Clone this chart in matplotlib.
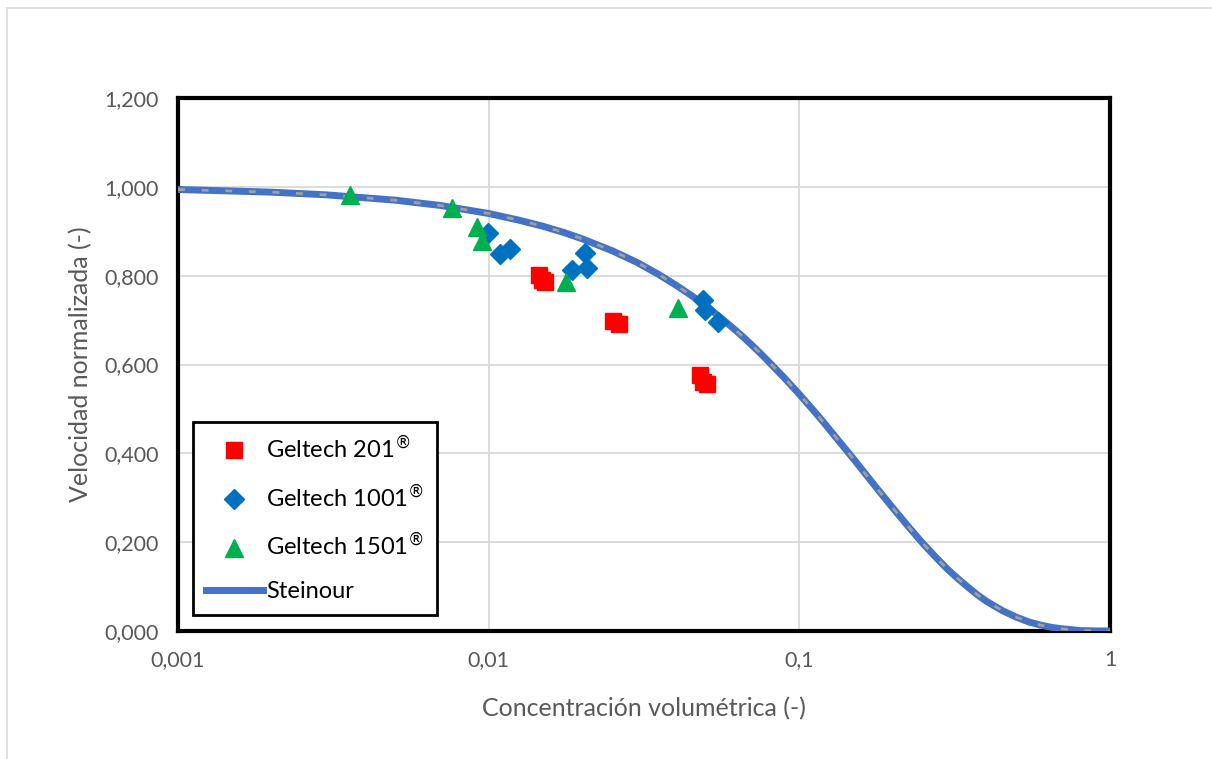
import matplotlib.pyplot as plt
from matplotlib.ticker import FixedLocator, FuncFormatter
from matplotlib.patches import Rectangle
from matplotlib.lines import Line2D

# datos
c_201 = [0.0145, 0.0148, 0.0152, 0.0251, 0.0262, 0.0479, 0.0489, 0.0504]
v_201 = [0.802, 0.790, 0.785, 0.698, 0.691, 0.576, 0.561, 0.556]

c_1001 = [0.00995, 0.01087, 0.01172, 0.01854, 0.0204, 0.0207, 0.0489, 0.0497, 0.0547]
v_1001 = [0.896, 0.849, 0.860, 0.813, 0.851, 0.817, 0.745, 0.723, 0.696]

c_1501 = [0.00358, 0.00762, 0.00917, 0.00951, 0.01773, 0.0407]
v_1501 = [0.982, 0.952, 0.909, 0.878, 0.786, 0.727]

c_st = [0.001, 0.002, 0.003, 0.005, 0.007, 0.01, 0.0125, 0.015, 0.0175, 0.02, 0.025,
        0.03, 0.035, 0.04, 0.045, 0.05, 0.055, 0.06, 0.065, 0.07, 0.075, 0.08, 0.09,
        0.1, 0.11, 0.12, 0.13, 0.15, 0.175, 0.2, 0.225, 0.25, 0.275, 0.3, 0.325,
        0.35, 0.375, 0.4, 0.45, 0.5, 0.55, 0.6, 0.65, 0.7, 0.75, 0.8, 0.9, 1.0]
v_st = [0.994, 0.988, 0.982, 0.970, 0.958, 0.940, 0.925, 0.911, 0.897, 0.883, 0.856,
        0.830, 0.804, 0.779, 0.755, 0.732, 0.709, 0.687, 0.666, 0.645, 0.625, 0.605, 0.568,
        0.533, 0.500, 0.469, 0.439, 0.386, 0.327, 0.277, 0.234, 0.197, 0.166, 0.139, 0.117,
        0.098, 0.081, 0.067, 0.046, 0.031, 0.020, 0.013, 0.008, 0.005, 0.003, 0.001, 0.0002, 0.0]

x_ticks = [0.001, 0.01, 0.1, 1]
x_labels = ['0,001', '0,01', '0,1', '1']
y_ticks = [0, 0.2, 0.4, 0.6, 0.8, 1.0, 1.2]

plt.rcParams['font.family'] = ['Lato', 'DejaVu Sans']

fig = plt.figure(figsize=(12.12, 7.59), dpi=100)
fig.patches.append(Rectangle((7/1212, -0.01), 1.0, 1.01 - 8/759, transform=fig.transFigure,
                             fill=False, edgecolor='#D9D9D9', linewidth=1.2))
ax = fig.add_axes([178/1212, 1 - 631/759, (1110-178)/1212, (631-98)/759])

ax.set_xscale('log')
ax.set_xlim(0.001, 1)
ax.set_ylim(0, 1.2)

ax.plot(c_st, v_st, color='#4472C4', lw=5, solid_capstyle='round', zorder=3)
ax.plot(c_st, v_st, color='#A0A0A0', lw=2, ls=(0, (2.5, 6)), zorder=3.1)
ax.plot(c_201, v_201, 's', color='#FF0000', ms=11.5, ls='none', zorder=4)
ax.plot(c_1001, v_1001, 'D', color='#0070C0', ms=10, ls='none', zorder=4)
ax.plot(c_1501, v_1501, '^', color='#00B050', ms=13, ls='none', zorder=4)

ax.xaxis.set_major_locator(FixedLocator(x_ticks))
ax.xaxis.set_minor_locator(FixedLocator([]))
ax.set_xticklabels(x_labels)
ax.yaxis.set_major_locator(FixedLocator(y_ticks))
ax.yaxis.set_major_formatter(FuncFormatter(lambda y, p: f'{y:.3f}'.replace('.', ',')))

ax.grid(True, color='#D9D9D9', lw=1.3)
ax.set_axisbelow(True)
ax.tick_params(length=0, labelsize=15.5, colors='#595959', pad=14)
for s in ax.spines.values():
    s.set_linewidth(3)
    s.set_color('black')

ax.set_xlabel('Concentración volumétrica (-)', fontsize=18, color='#595959')
ax.set_ylabel('Velocidad normalizada (-)', fontsize=18, color='#595959')
ax.xaxis.set_label_coords(0.5, (631 - 697) / 533)
ax.yaxis.set_label_coords((92 - 178) / 932, 0.5)

# leyenda
h = [Line2D([], [], marker='s', color='#FF0000', ms=11.5, ls='none'),
     Line2D([], [], marker='D', color='#0070C0', ms=10, ls='none'),
     Line2D([], [], marker='^', color='#00B050', ms=13, ls='none'),
     Line2D([], [], color='#4472C4', lw=5)]
leg = ax.legend(h, ['Geltech 201$^{®}$', 'Geltech 1001$^{®}$', 'Geltech 1501$^{®}$', 'Steinour'],
                loc='lower left', bbox_to_anchor=(15/932, 16/533), borderaxespad=0,
                fontsize=17, frameon=True, fancybox=False, edgecolor='black', framealpha=1,
                labelspacing=0.9, handlelength=2.4, handletextpad=0.15, borderpad=0.55)
leg.get_frame().set_linewidth(2)

fig.savefig('out.png', dpi=100)
